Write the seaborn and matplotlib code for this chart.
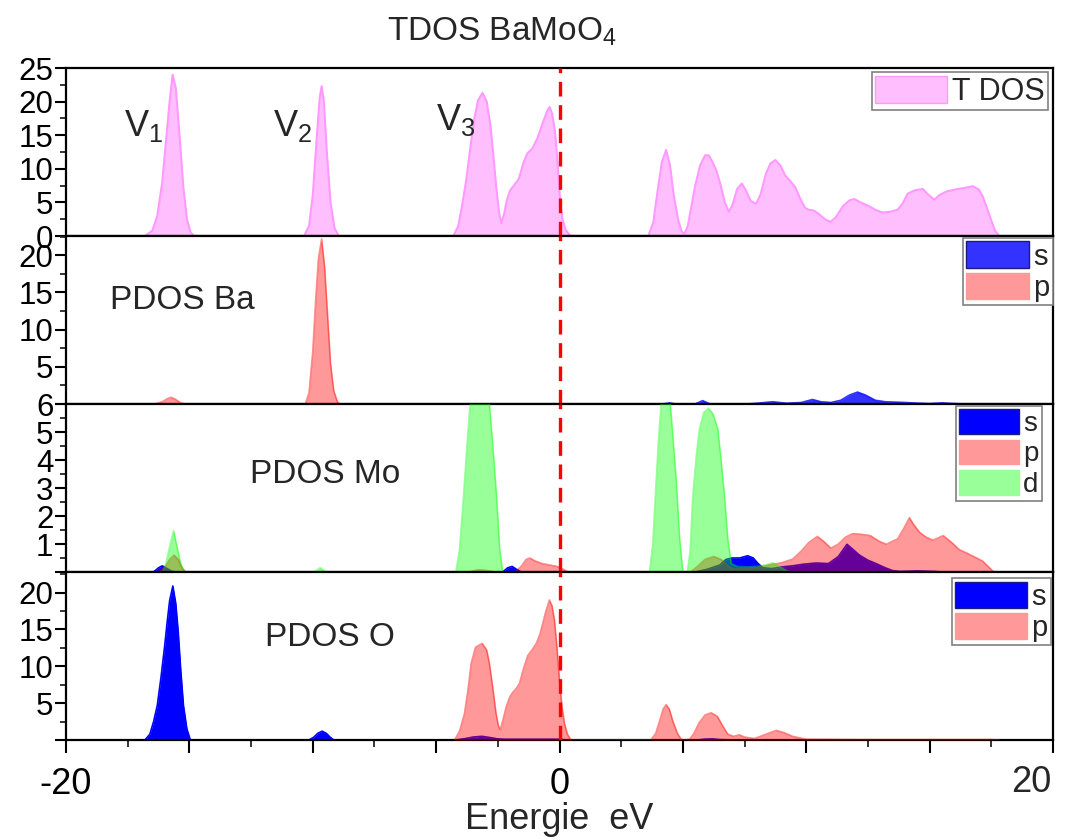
import matplotlib
matplotlib.use("Agg")
import numpy as np
import pandas as pd
import matplotlib.pyplot as plt
import seaborn as sns
from matplotlib.ticker import MultipleLocator, FuncFormatter
from matplotlib.patches import Patch

# ---------------- data (energy in eV, DOS values) ----------------
tdos_e = [-16.8, -16.5, -16.3, -16.1, -15.95, -15.8, -15.68, -15.55, -15.4, -15.25, -15.1, -14.95, -14.8,
          -10.35, -10.15, -10.0, -9.85, -9.72, -9.64, -9.55, -9.42, -9.28, -9.12, -8.95,
          -4.3, -4.1, -3.95, -3.78, -3.6, -3.45, -3.3, -3.12, -2.95, -2.8, -2.68, -2.57, -2.45, -2.36,
          -2.25, -2.14, -2.0, -1.85, -1.65, -1.45, -1.3, -1.1, -0.9, -0.7, -0.5, -0.4, -0.3, -0.18,
          -0.08, 0.02, 0.12, 0.25, 0.4, 0.5,
          3.6, 3.8, 3.98, 4.15, 4.32, 4.48, 4.62, 4.8, 4.95, 5.06, 5.2, 5.35, 5.5, 5.7, 5.9, 6.05,
          6.2, 6.35, 6.5, 6.7, 6.86, 7.0, 7.2, 7.39, 7.55, 7.75, 7.97, 8.15, 8.37, 8.55, 8.75, 8.95,
          9.15, 9.32, 9.55, 9.75, 9.95, 10.1, 10.3, 10.5, 10.75, 10.98, 11.2, 11.48, 11.75, 11.95,
          12.2, 12.56, 12.85, 13.1, 13.4, 13.7, 13.9, 14.11, 14.4, 14.72, 14.9, 15.19, 15.4, 15.67,
          16.0, 16.34, 16.75, 17.0, 17.15, 17.3, 17.49, 17.65, 17.83]
tdos_v = [0, 0.8, 3, 8, 14, 20, 24, 22, 15, 7.5, 2.5, 0.5, 0,
          0, 1.5, 6, 14, 20.5, 22.3, 20, 12, 5, 1.2, 0,
          0, 1.5, 4.5, 8.3, 13.5, 17.5, 20.2, 21.3, 20, 16.5, 12, 7.5, 3.5, 1.9,
          3.2, 5.2, 6.8, 7.5, 8.5, 11, 12.3, 13, 14.5, 16.6, 18.6, 19.2, 18.2, 15.5,
          11, 5.5, 2.5, 0.9, 0.2, 0,
          0, 2, 6.8, 11, 12.8, 10.5, 6.3, 2.5, 0.7, 0.3, 1.5, 4.5, 7.5, 10.5, 12, 12,
          11, 9.8, 8, 5, 3.6, 4.5, 7, 7.8, 6.8, 5.2, 4.8, 6.2, 9.3, 10.8, 11.3, 10.5,
          9.0, 8.3, 7.3, 5.6, 4.2, 3.9, 3.8, 3.3, 2.5, 2.1, 2.8, 4.4, 5.3, 5.5,
          5.0, 4.4, 3.8, 3.5, 3.6, 3.9, 4.8, 6.3, 6.8, 7.0, 6.3, 5.4, 6.1, 6.6,
          6.9, 7.1, 7.4, 6.9, 5.9, 4.4, 2.4, 0.8, 0]

ba_s_e = [4.2, 4.46, 4.7, 5.5, 5.8, 6.1, 7.6, 8.0, 8.63, 9.2, 9.8, 10.25, 10.6, 11.0, 11.4, 11.75,
          12.08, 12.4, 12.8, 13.2, 14.0, 14.6, 15.0, 15.5, 16.0, 16.5]
ba_s_v = [0, 0.15, 0, 0, 0.45, 0, 0, 0.1, 0.3, 0.1, 0.2, 0.6, 0.3, 0.2, 0.5, 1.2,
          1.6, 1.2, 0.5, 0.3, 0.2, 0.1, 0.05, 0.15, 0.05, 0]
ba_p_e = [-16.4, -16.1, -15.9, -15.74, -15.55, -15.35, -15.2,
          -10.3, -10.15, -10.0, -9.88, -9.77, -9.64, -9.52, -9.4, -9.28, -9.15, -9.0, -8.9]
ba_p_v = [0, 0.3, 0.7, 0.9, 0.6, 0.15, 0,
          0, 1.5, 7, 14, 19.5, 22.2, 18.5, 12, 5.5, 1.8, 0.3, 0]

mo_s_e = [-16.45, -16.25, -16.1, -15.9, -15.7, -15.5,
          -2.3, -2.1, -1.92, -1.75, -1.55,
          5.5, 6.0, 6.5, 6.75, 7.0, 7.3, 7.63, 7.85, 8.05, 8.25, 8.6, 9.0, 9.45, 9.9, 10.4, 10.9,
          11.3, 11.65, 11.9, 12.16, 12.5, 12.83, 13.2, 13.5, 13.8, 14.5, 15.2, 15.5]
mo_s_v = [0, 0.15, 0.22, 0.12, 0.02, 0,
          0, 0.15, 0.2, 0.1, 0,
          0, 0.1, 0.25, 0.45, 0.5, 0.5, 0.58, 0.5, 0.3, 0.15, 0.12, 0.18, 0.22, 0.28, 0.32, 0.3,
          0.55, 0.99, 0.8, 0.6, 0.42, 0.3, 0.15, 0.05, 0.02, 0.04, 0.02, 0]
mo_p_e = [-16.3, -16.0, -15.8, -15.62, -15.45, -15.3, -15.15,
          -3.7, -3.3, -3.0, -2.6,
          -1.8, -1.55, -1.35, -1.2, -1.0, -0.7, -0.4, -0.1, 0.15, 0.35,
          5.3, 5.6, 5.9, 6.25, 6.55, 6.85, 7.1, 7.5, 8.0, 8.5, 9.0, 9.45, 9.8, 10.1, 10.45, 10.7,
          11.0, 11.3, 11.6, 11.88, 12.2, 12.6, 12.95, 13.25, 13.5, 13.7, 13.95, 14.18, 14.35,
          14.59, 14.85, 15.13, 15.35, 15.55, 15.9, 16.2, 16.5, 16.75, 17.15, 17.6]
mo_p_v = [0, 0.15, 0.45, 0.6, 0.45, 0.15, 0,
          0, 0.08, 0.06, 0,
          0, 0.2, 0.45, 0.5, 0.4, 0.3, 0.25, 0.2, 0.1, 0,
          0, 0.2, 0.45, 0.55, 0.45, 0.2, 0.1, 0.12, 0.15, 0.25, 0.33, 0.46, 0.75, 1.05, 1.27, 1.1,
          0.85, 1.0, 1.25, 1.37, 1.35, 1.3, 1.1, 0.99, 1.1, 1.18, 1.55, 1.94, 1.7,
          1.42, 1.25, 1.14, 1.22, 1.3, 1.05, 0.8, 0.68, 0.57, 0.39, 0]
mo_d_e = [-16.1, -15.95, -15.8, -15.64, -15.5, -15.35, -15.2,
          -9.95, -9.7, -9.45,
          -4.2, -4.05, -3.89, -3.75, -3.62, -3.42, -3.23, -3.03, -2.84, -2.7, -2.55, -2.42, -2.3,
          3.65, 3.78, 3.92, 4.02, 4.12, 4.3, 4.49, 4.6, 4.73, 4.87, 5.0,
          5.18, 5.3, 5.4, 5.55, 5.67, 5.85, 6.04, 6.22, 6.42, 6.55, 6.69, 6.82, 6.96,
          7.2, 7.6, 8.0, 8.35, 8.64, 8.9, 9.2, 9.4]
mo_d_v = [0, 0.3, 0.9, 1.48, 0.9, 0.3, 0,
          0, 0.15, 0,
          0, 0.8, 2.7, 4.5, 6.0, 7.8, 8.5, 7.8, 6.0, 4.5, 2.7, 0.8, 0,
          0, 1.0, 3.3, 4.8, 6.0, 7.0, 6.0, 4.8, 3.3, 1.2, 0,
          0, 0.8, 2.7, 4.2, 5.1, 5.7, 5.85, 5.65, 5.1, 4.0, 2.7, 1.2, 0.3,
          0.2, 0.18, 0.2, 0.25, 0.33, 0.2, 0.05, 0]

o_s_e = [-16.8, -16.6, -16.45, -16.3, -16.15, -16.0, -15.9, -15.8, -15.67, -15.55, -15.45, -15.35,
         -15.24, -15.1, -14.96,
         -10.15, -9.95, -9.8, -9.62, -9.45, -9.3, -9.15,
         -4.2, -3.8, -3.5, -3.15, -2.85, -2.5, -2.2, -1.5, -0.5, 0.0, 0.3,
         5.6, 5.9, 6.2, 6.5, 7.0]
o_s_v = [0, 0.8, 2.5, 4.7, 8.5, 12.8, 16, 18.9, 20.9, 18.5, 14.6, 9.5,
         4.7, 1.5, 0,
         0, 0.4, 0.9, 1.2, 0.9, 0.4, 0,
         0, 0.2, 0.4, 0.5, 0.35, 0.15, 0.1, 0.1, 0.1, 0.1, 0,
         0, 0.12, 0.15, 0.05, 0]
o_p_e = [-4.25, -4.05, -3.85, -3.7, -3.58, -3.4, -3.13, -2.95, -2.84, -2.7, -2.57, -2.48, -2.4,
         -2.3, -2.16, -2.02, -1.89, -1.75, -1.62, -1.45, -1.28, -1.1, -0.94, -0.8, -0.68, -0.55,
         -0.41, -0.3, -0.2, -0.1, 0.0, 0.1, 0.2, 0.32, 0.47,
         3.7, 3.9, 4.05, 4.2, 4.32, 4.45, 4.6, 4.78, 4.93, 5.05, 5.27, 5.45, 5.65, 5.9, 6.15, 6.4,
         6.6, 6.82, 7.05, 7.29, 7.5, 7.9, 8.3, 8.78, 9.1, 9.45, 9.99, 12.0, 17.5, 17.8]
o_p_v = [0, 1.2, 3.6, 7, 10.4, 12.6, 13.1, 12.2, 10.4, 7, 3.6, 2.0, 1.4,
         2.6, 4.5, 5.8, 6.5, 7.0, 7.7, 9.8, 11.5, 12.3, 13.1, 14.3, 15.8, 17.5,
         19.0, 18.2, 16.2, 12.5, 8.1, 4.6, 2.3, 0.8, 0,
         0, 0.9, 2.5, 4.2, 4.8, 4.2, 2.5, 0.9, 0.1, 0, 0.1, 0.9, 2.3, 3.4, 3.7, 3.2,
         2.0, 0.8, 0.5, 0.7, 0.4, 0.2, 0.7, 1.3, 1.0, 0.5, 0.1, 0.05, 0.05, 0]

panel_names = ["PDOS Ba", "PDOS Mo", "PDOS O"]
x_tick_labels = [-20, 0, 20]

# ---------------- style ----------------
sns.set_theme(style="white")
plt.rcParams['font.family'] = ['Liberation Sans', 'DejaVu Sans']
plt.rcParams['mathtext.fontset'] = 'custom'
plt.rcParams['mathtext.rm'] = 'Liberation Sans'
plt.rcParams['mathtext.it'] = 'Liberation Sans'
plt.rcParams['axes.edgecolor'] = 'black'
plt.rcParams['axes.linewidth'] = 1.5

C_TDOS_F = "#FFBFFF"
C_TDOS_E = "#FF99FF"

fig, axes = plt.subplots(4, 1, sharex=True, figsize=(10.65, 8.4), dpi=100,
                         gridspec_kw=dict(hspace=0))
fig.subplots_adjust(left=66/1065, right=1053/1065, top=1-68/840, bottom=1-740/840)


def area(ax, e, v, fc, ec, alpha=1.0, ealpha=1.0, lw=1.2, z=2):
    df = pd.DataFrame({"e": e, "v": v})
    ax.fill_between(df["e"], 0, df["v"], color=fc, alpha=alpha, lw=0, zorder=z)
    sns.lineplot(data=df, x="e", y="v", ax=ax, color=ec, alpha=ealpha, lw=lw,
                 zorder=z + 0.1, sort=False, estimator=None)


# TDOS
ax0 = axes[0]
area(ax0, tdos_e, tdos_v, C_TDOS_F, C_TDOS_E, lw=1.5)
# Ba
ax1 = axes[1]
area(ax1, ba_s_e, ba_s_v, "#0000FF", "#0000FF", alpha=0.8, ealpha=0.8, z=2)
area(ax1, ba_p_e, ba_p_v, "#FF0000", "#FF0000", alpha=0.4, ealpha=0.45, z=3)
# Mo
ax2 = axes[2]
area(ax2, mo_s_e, mo_s_v, "#0000FF", "#0000FF", z=2)
area(ax2, mo_p_e, mo_p_v, "#FF0000", "#FF0000", alpha=0.4, ealpha=0.45, z=3)
area(ax2, mo_d_e, mo_d_v, "#00FF00", "#00FF00", alpha=0.4, ealpha=0.4, z=4)
# O
ax3 = axes[3]
area(ax3, o_s_e, o_s_v, "#0000FF", "#0000FF", z=2)
area(ax3, o_p_e, o_p_v, "#FF0000", "#FF0000", alpha=0.4, ealpha=0.45, z=3)

ylims = [(0, 25), (0, 22.6), (0, 6.0), (0, 22.8)]
majors = [5, 5, 1, 5]
minors = [2.5, 2.5, 0.5, 2.5]
for i, ax in enumerate(axes):
    ax.set_xlim(-20, 20)
    ax.set_ylim(*ylims[i])
    ax.set_xlabel("")
    ax.set_ylabel("")
    ax.axvline(0, color="#FF0000", lw=2.4, ls=(0, (4.4, 2.6)), zorder=10)
    ax.yaxis.set_major_locator(MultipleLocator(majors[i]))
    ax.yaxis.set_minor_locator(MultipleLocator(minors[i]))
    if i == 0:
        ax.yaxis.set_major_formatter(FuncFormatter(lambda v, p: f"{v:.0f}"))
    else:
        ax.yaxis.set_major_formatter(FuncFormatter(lambda v, p: "" if abs(v) < 1e-9 else f"{v:.0f}"))
    ax.tick_params(axis='y', which='major', left=True, direction='out', length=8, width=1.5,
                   labelsize=22.5, pad=1, colors='black')
    ax.tick_params(axis='y', which='minor', left=True, direction='out', length=4.5, width=1.3)
    ax.tick_params(axis='x', which='both', bottom=False, top=False)
    for sp in ax.spines.values():
        sp.set_color('black')
        sp.set_linewidth(1.6)
    ax.set_facecolor('white')

ax3.xaxis.set_major_locator(MultipleLocator(5))
ax3.xaxis.set_minor_locator(MultipleLocator(2.5))
# the last label (20) is placed separately so that it stays inside the figure
ax3.xaxis.set_major_formatter(FuncFormatter(
    lambda v, p: f"{int(round(v))}" if int(round(v)) in x_tick_labels[:-1] else ""))
ax3.tick_params(axis='x', which='major', bottom=True, direction='out', length=9.5, width=1.5,
                labelsize=26, pad=10, colors='black')
ax3.tick_params(axis='x', which='minor', bottom=True, direction='out', length=5, width=1.3)
ax3.annotate(f"{x_tick_labels[-1]}", xy=(x_tick_labels[-1], 0), xycoords=('data', 'axes fraction'),
             xytext=(-1, -18), textcoords='offset points', ha='right', va='top', fontsize=26)
ax3.set_xlabel("Energie  eV", fontsize=26, labelpad=0)

# annotations
ax0.text(-17.65, 16.3, r"V$\mathregular{_1}$", fontsize=26, va='center', ha='left')
ax0.text(-11.63, 16.3, r"V$\mathregular{_2}$", fontsize=26, va='center', ha='left')
ax0.text(-5.02, 17.3, r"V$\mathregular{_3}$", fontsize=26, va='center', ha='left')
ax1.text(-18.2, 13.9, panel_names[0], fontsize=24, va='center', ha='left')
ax2.text(-12.56, 3.5, panel_names[1], fontsize=24, va='center', ha='left')
ax3.text(-11.95, 13.9, panel_names[2], fontsize=24, va='center', ha='left')

fig.text(502/1065, 1 - 32/840, r"TDOS BaMoO$\mathregular{_4}$", fontsize=24, ha='center', va='center')

# legends
def make_legend(ax, handles, labels, anchor, fs=21, hl=2.15):
    leg = ax.legend(handles, labels, loc='upper right', bbox_to_anchor=anchor,
                    fontsize=fs, frameon=True, fancybox=False, framealpha=1,
                    edgecolor='#808080', borderpad=0.12, borderaxespad=0.0,
                    handlelength=hl, handleheight=1.0, handletextpad=0.15,
                    labelspacing=0.08)
    leg.get_frame().set_linewidth(1.2)
    leg.set_zorder(20)
    return leg

make_legend(ax0, [Patch(facecolor=C_TDOS_F, edgecolor=C_TDOS_E)], ["T DOS"],
            (1 - 5/987, 1 - 4/168), fs=22, hl=2.35)
make_legend(ax1, [Patch(facecolor="#3333FF", edgecolor="#1a1a80"),
                  Patch(facecolor="#FF9999", edgecolor="#FF9999")], ["s", "p"],
            (1.0, 1 - 2/168))
make_legend(ax2, [Patch(facecolor="#0000FF", edgecolor="#1a1a80"),
                  Patch(facecolor="#FF9999", edgecolor="#FF9999"),
                  Patch(facecolor="#99FF99", edgecolor="#99FF99")], ["s", "p", "d"],
            (1 - 11/987, 1 - 2/168), fs=20)
make_legend(ax3, [Patch(facecolor="#0000FF", edgecolor="#1a1a80"),
                  Patch(facecolor="#FF9999", edgecolor="#FF9999")], ["s", "p"],
            (1 - 2/987, 1 - 6/168), hl=2.45)

fig.savefig("out.png", dpi=100, facecolor='white')
